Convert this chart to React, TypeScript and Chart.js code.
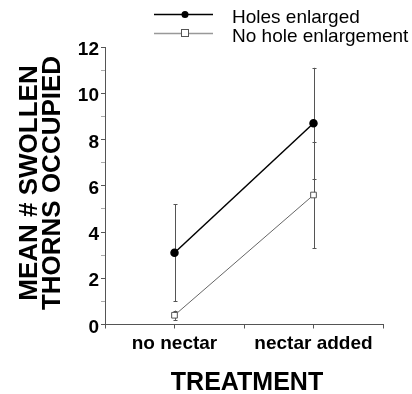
import React, { useEffect, useRef } from "react";
import { Chart, registerables } from "chart.js";

Chart.register(...registerables);

const categories = ["no nectar", "nectar added"];
const categoryX = [1, 3];
const holesEnlarged = [3.1, 8.7];
const holesEnlargedErr = [2.1, 2.4];
const noHoleEnlargement = [0.4, 5.6];
const noHoleEnlargementErr = [0.2, 2.3];
const seriesNames = ["Holes enlarged", "No hole enlargement"];
const yTitleLines = ["MEAN # SWOLLEN", "THORNS OCCUPIED"];
const xTitle = "TREATMENT";

const FONT = '"Liberation Sans", Arial, Helvetica, sans-serif';

const errors = [holesEnlargedErr, noHoleEnlargementErr];

const customPlugin = {
  id: "custom",
  beforeDatasetsDraw(chart: any) {
    const ctx = chart.ctx;
    const x = chart.scales.x;
    const y = chart.scales.y;
    ctx.save();
    ctx.strokeStyle = "#555";
    ctx.lineWidth = 1;
    chart.data.datasets.forEach((ds: any, di: number) => {
      ds.data.forEach((p: any, i: number) => {
        const e = errors[di][i];
        const px = Math.round(x.getPixelForValue(p.x)) + 0.5;
        const top = y.getPixelForValue(p.y + e);
        const bot = y.getPixelForValue(p.y - e);
        ctx.beginPath();
        ctx.moveTo(px, top);
        ctx.lineTo(px, bot);
        ctx.moveTo(px - 2, Math.round(top) + 0.5);
        ctx.lineTo(px + 2, Math.round(top) + 0.5);
        ctx.moveTo(px - 2, Math.round(bot) + 0.5);
        ctx.lineTo(px + 2, Math.round(bot) + 0.5);
        ctx.stroke();
      });
    });
    ctx.restore();
  },
  afterDraw(chart: any) {
    const ctx = chart.ctx;
    ctx.save();
    // Legend
    const legendY = [14.5, 33.5];
    const lineCols = ["#000", "#999"];
    for (let i = 0; i < 2; i++) {
      ctx.strokeStyle = lineCols[i];
      ctx.lineWidth = 1.5;
      ctx.beginPath();
      ctx.moveTo(154, legendY[i]);
      ctx.lineTo(213, legendY[i]);
      ctx.stroke();
      if (i === 0) {
        ctx.fillStyle = "#000";
        ctx.beginPath();
        ctx.arc(185, legendY[i], 3.5, 0, Math.PI * 2);
        ctx.fill();
      } else {
        ctx.fillStyle = "#fff";
        ctx.strokeStyle = "#555";
        ctx.lineWidth = 1;
        ctx.fillRect(181.5, legendY[i] - 4, 7, 7);
        ctx.strokeRect(181.5, legendY[i] - 4, 7, 7);
      }
      ctx.fillStyle = "#000";
      ctx.font = `19px ${FONT}`;
      ctx.textAlign = "left";
      ctx.textBaseline = "alphabetic";
      ctx.fillText(seriesNames[i], 232, i === 0 ? 23 : 42);
    }
    // X title
    ctx.font = `bold 25px ${FONT}`;
    ctx.textAlign = "center";
    ctx.fillText(xTitle, 247, 390);
    // Y title
    ctx.font = `bold 26px ${FONT}`;
    const cy = 183;
    const baseX = [37, 60];
    yTitleLines.forEach((t, i) => {
      ctx.save();
      ctx.translate(baseX[i], cy);
      ctx.rotate(-Math.PI / 2);
      ctx.textAlign = "center";
      ctx.textBaseline = "alphabetic";
      ctx.fillText(t, 0, 0);
      ctx.restore();
    });
    ctx.restore();
  },
};

export default function App() {
  const ref = useRef<HTMLCanvasElement>(null);
  useEffect(() => {
    if (!ref.current) return;
    const toPts = (vals: number[]) => vals.map((v, i) => ({ x: categoryX[i], y: v }));
    const chart = new Chart(ref.current, {
      type: "line",
      data: {
        datasets: [
          {
            label: seriesNames[0],
            data: toPts(holesEnlarged),
            borderColor: "#000",
            borderWidth: 1.5,
            backgroundColor: "#000",
            pointBackgroundColor: "#000",
            pointBorderColor: "#000",
            pointRadius: 3.5,
            pointStyle: "circle",
          },
          {
            label: seriesNames[1],
            data: toPts(noHoleEnlargement),
            borderColor: "#666",
            borderWidth: 1,
            pointBackgroundColor: "#fff",
            pointBorderColor: "#555",
            pointBorderWidth: 1,
            pointRadius: 4,
            pointStyle: "rect",
          },
        ],
      },
      options: {
        animation: false,
        responsive: false,
        devicePixelRatio: 1,
        layout: { padding: { top: 47, right: 29, left: 0, bottom: 0 } },
        plugins: { legend: { display: false }, tooltip: { enabled: false } },
        scales: {
          x: {
            type: "linear",
            min: 0,
            max: 4,
            afterFit: (s: any) => {
              s.height = 69.5;
            },
            ticks: {
              stepSize: 1,
              autoSkip: false,
              maxRotation: 0,
              padding: 4,
              color: "#000",
              font: { family: FONT, size: 19, weight: "bold" },
              callback: (v: any) => {
                const idx = categoryX.indexOf(Number(v));
                return idx >= 0 ? categories[idx] : "";
              },
            },
            grid: { drawOnChartArea: false, tickLength: 4, tickColor: "#555" },
            border: { color: "#555", width: 1 },
          },
          y: {
            min: 0,
            max: 12,
            afterFit: (s: any) => {
              s.width = 105;
            },
            ticks: {
              stepSize: 1,
              autoSkip: false,
              padding: 2,
              labelOffset: 3,
              color: "#000",
              font: { family: FONT, size: 19, weight: "bold" },
              callback: (v: any) => (Number(v) % 2 === 0 ? String(v) : ""),
            },
            grid: {
              drawOnChartArea: false,
              tickLength: 4,
              tickColor: (c: any) => (c.tick && c.tick.value % 2 === 0 ? "#555" : "#aaa"),
            },
            border: { color: "#555", width: 1 },
          },
        },
      },
      plugins: [customPlugin],
    });
    return () => chart.destroy();
  }, []);
  return (
    <div style={{ position: "absolute", left: 0, top: 0, width: 412, height: 394, background: "#fff" }}>
      <canvas ref={ref} width={412} height={394} style={{ display: "block" }} />
    </div>
  );
}
